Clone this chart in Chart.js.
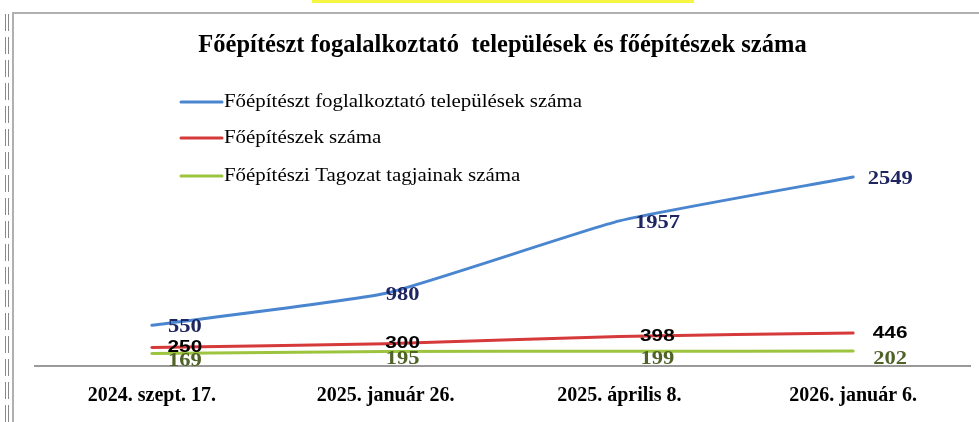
<!DOCTYPE html>
<html>
<head>
<meta charset="utf-8">
<script src="https://cdn.jsdelivr.net/npm/chart.js@4.4.1/dist/chart.umd.min.js"></script>
<style>
  html, body { margin: 0; padding: 0; background: #fff; }
  body { width: 979px; height: 422px; position: relative; overflow: hidden; }
  #hl { position: absolute; left: 312px; top: 0; width: 382px; height: 3px; background: #f5f542; }
  #frameTop { position: absolute; left: 12px; top: 12px; width: 967px; height: 2px; background: #b0b0b0; }
  #frameLeft { position: absolute; left: 12px; top: 12px; width: 2px; height: 410px; background: #b0b0b0; }
  .bar { position: absolute; top: 14px; width: 1px; height: 408px;
         background: repeating-linear-gradient(to bottom, #888 0px, #888 17px, transparent 17px, transparent 23px); }
  #wrap { position: absolute; left: 0; top: 0; width: 979px; height: 422px; }
</style>
</head>
<body>
<div id="hl"></div>
<div id="frameTop"></div>
<div id="frameLeft"></div>
<div class="bar" style="left:5px"></div>
<div class="bar" style="left:8px"></div>
<div id="wrap"><canvas id="c" width="979" height="422"></canvas></div>
<script>
const categories = ["2024. szept. 17.", "2025. január 26.", "2025. április 8.", "2026. január 6."];
const seriesNames = [
  "Főépítészt foglalkoztató települések száma",
  "Főépítészek száma",
  "Főépítészi Tagozat tagjainak száma"
];
const telepulesek = [550, 980, 1957, 2549];
const foepiteszek = [250, 300, 398, 446];
const tagozat = [169, 195, 199, 202];
const chartTitle = "Főépítészt fogalalkoztató  települések és főépítészek száma";

const lineColors = ["#4A86D0", "#D6393A", "#9CC43E"];
const labelStyles = [
  { color: "#1F2560", font: "bold 18px 'Liberation Serif', serif", dy: 2, sx: 1.25 },
  { color: "#000000", font: "bold 17px 'Liberation Sans', sans-serif", dy: 0, sx: 1.22 },
  { color: "#4F6228", font: "bold 18px 'Liberation Serif', serif", dy: 8, sx: 1.25 }
];
const labelDx = [33, 17, 38, 37];

function drawScaled(ctx, text, x, y, sx) {
  ctx.save();
  ctx.translate(x, y);
  ctx.scale(sx, 1);
  ctx.fillText(text, 0, 0);
  ctx.restore();
}

const overlayPlugin = {
  id: 'overlay',
  afterDatasetsDraw(chart) {
    const ctx = chart.ctx;
    ctx.save();
    chart.data.datasets.forEach((ds, di) => {
      const meta = chart.getDatasetMeta(di);
      const st = labelStyles[di];
      ctx.font = st.font;
      ctx.fillStyle = st.color;
      ctx.textAlign = 'center';
      ctx.textBaseline = 'middle';
      meta.data.forEach((pt, i) => {
        drawScaled(ctx, String(ds.data[i]), pt.x + labelDx[i], pt.y + st.dy, st.sx);
      });
    });
    const lx = 181, lw = 41, rows = [102, 138, 176];
    chart.data.datasets.forEach((ds, di) => {
      const y = rows[di];
      ctx.strokeStyle = ds.borderColor;
      ctx.lineWidth = 3;
      ctx.lineCap = 'round';
      ctx.beginPath();
      ctx.moveTo(lx, y);
      ctx.lineTo(lx + lw, y);
      ctx.stroke();
      ctx.font = "19px 'Liberation Serif', serif";
      ctx.fillStyle = "#000";
      ctx.textAlign = 'left';
      ctx.textBaseline = 'middle';
      drawScaled(ctx, ds.label, lx + lw + 2, y, 1.1);
    });
    ctx.restore();
  }
};

const series = [telepulesek, foepiteszek, tagozat];
new Chart(document.getElementById('c'), {
  type: 'line',
  data: {
    labels: categories,
    datasets: series.map((d, i) => ({
      label: seriesNames[i],
      data: d,
      borderColor: lineColors[i],
      backgroundColor: lineColors[i],
      borderWidth: 3,
      pointRadius: 0,
      tension: 0.15,
      borderCapStyle: 'round'
    }))
  },
  options: {
    responsive: false,
    animation: false,
    layout: { padding: { left: 35, right: 9, top: 0, bottom: 0 } },
    plugins: {
      legend: { display: false },
      tooltip: { enabled: false },
      title: {
        display: true,
        text: chartTitle,
        fullSize: false,
        color: '#000',
        font: { family: "'Liberation Serif', serif", size: 24.5, weight: 'bold', lineHeight: 1.2 },
        padding: { top: 31, bottom: 9 }
      }
    },
    scales: {
      x: {
        offset: true,
        grid: { display: false, drawTicks: false },
        border: { display: true, color: '#9a9a9a', width: 2 },
        ticks: {
          color: '#000',
          padding: 18,
          maxRotation: 0,
          font: { family: "'Liberation Serif', serif", size: 20, weight: 'bold' }
        },
        afterFit(s) { s.height = 56; }
      },
      y: {
        display: false,
        min: 0,
        max: 4000
      }
    }
  },
  plugins: [overlayPlugin]
});
</script>
</body>
</html>
